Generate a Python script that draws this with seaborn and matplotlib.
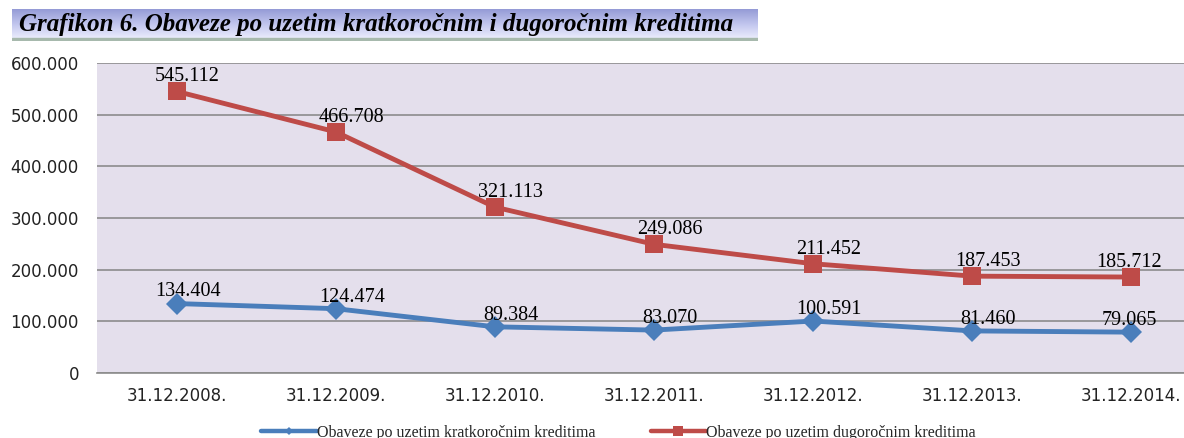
import numpy as np
import pandas as pd
import matplotlib
matplotlib.use("Agg")
import matplotlib.pyplot as plt
import seaborn as sns
from matplotlib.colors import LinearSegmentedColormap

categories = ["31.12.2008.", "31.12.2009.", "31.12.2010.", "31.12.2011.",
              "31.12.2012.", "31.12.2013.", "31.12.2014."]
short_term = [134404, 124474, 89384, 83070, 100591, 81460, 79065]
long_term = [545112, 466708, 321113, 249086, 211452, 187453, 185712]
short_label = "Obaveze po uzetim kratkoročnim kreditima"
long_label = "Obaveze po uzetim dugoročnim kreditima"
title_text = "Grafikon 6. Obaveze po uzetim kratkoročnim i dugoročnim kreditima"
y_ticks = [0, 100000, 200000, 300000, 400000, 500000, 600000]

df = pd.DataFrame({
    "datum": categories * 2,
    "vrijednost": short_term + long_term,
    "serija": [short_label] * len(categories) + [long_label] * len(categories),
})

sns.set_theme(style="white")
plt.rcParams["font.family"] = ["DejaVu Sans"]

W, H = 1184, 438
fig = plt.figure(figsize=(W / 100, H / 100), dpi=100)
# plot area extends beyond the right edge (the reference is cropped there)
ax = fig.add_axes([97 / W, 65 / H, (1211 - 97) / W, (373 - 63) / H])
ax.set_facecolor("#e4dfec")

blue = "#4a7ebb"
red = "#be4b48"
sns.lineplot(data=df, x="datum", y="vrijednost", hue="serija", style="serija",
             palette={short_label: blue, long_label: red},
             markers={short_label: "D", long_label: "s"},
             dashes=False, markersize=13, linewidth=3.5, markeredgewidth=0,
             ax=ax, sort=False)
for line in ax.lines:
    if line.get_marker() == "D":
        line.set_markersize(11)

ax.set_xlim(-0.5, len(categories) - 0.5)
ax.set_ylim(0, 600000)
ax.set_yticks(y_ticks)
ax.set_yticklabels([f"{v:,}".replace(",", ".") for v in y_ticks])
ax.yaxis.grid(True, color="#8c8c8c", linewidth=1.2)
ax.set_axisbelow(True)
for s in ["top", "right", "left"]:
    ax.spines[s].set_visible(False)
ax.spines["bottom"].set_color("#8c8c8c")
ax.spines["bottom"].set_linewidth(1.2)
ax.tick_params(axis="both", length=0, labelsize=12, colors="#222222")
ax.tick_params(axis="y", pad=13)
ax.tick_params(axis="x", pad=10)
ax.set_xlabel("")
ax.set_ylabel("")

n = len(categories)


def dx(i):
    if i == n - 1:
        return -1.5
    if i == 0:
        return 8
    return 11.5


for i, v in enumerate(long_term):
    ax.annotate(f"{v:,}".replace(",", "."), (i, v), xytext=(dx(i), 3.5),
                textcoords="offset points", ha="center", va="bottom",
                family="Liberation Serif", fontsize=14.5, color="black")
for i, v in enumerate(short_term):
    ax.annotate(f"{v:,}".replace(",", "."), (i, v), xytext=(dx(i), 1.5),
                textcoords="offset points", ha="center", va="bottom",
                family="Liberation Serif", fontsize=14.5, color="black")

leg = ax.legend(loc="center", bbox_to_anchor=(0.5224, 0.012),
                bbox_transform=fig.transFigure, ncol=2, frameon=False,
                prop={"family": "Liberation Serif", "size": 11.5},
                handlelength=3.45, handletextpad=0.0, columnspacing=3.5)
for h in leg.legend_handles:
    h.set_linewidth(3.2)
    if h.get_marker() == "D":
        h.set_markersize(4)
    else:
        h.set_markersize(6.5)

# Title banner
tax = fig.add_axes([12 / W, (H - 41) / H, (758 - 12) / W, 32 / H])
cmap = LinearSegmentedColormap.from_list("ban", ["#959bd6", "#c4c8ef", "#f2f3ff"])
grad = np.linspace(0, 1, 100).reshape(-1, 1)
tax.imshow(grad, aspect="auto", cmap=cmap, extent=[0, 1, 0, 1], origin="upper")
tax.axhspan(0, 0.09, color="#a7b9ad")
tax.set_xlim(0, 1)
tax.set_ylim(0, 1)
tax.axis("off")
tax.text(0.01, 0.52, title_text, ha="left", va="center",
         family="Liberation Serif", fontsize=18, fontweight="bold",
         fontstyle="italic", color="black")

fig.savefig("out.png", dpi=100)
